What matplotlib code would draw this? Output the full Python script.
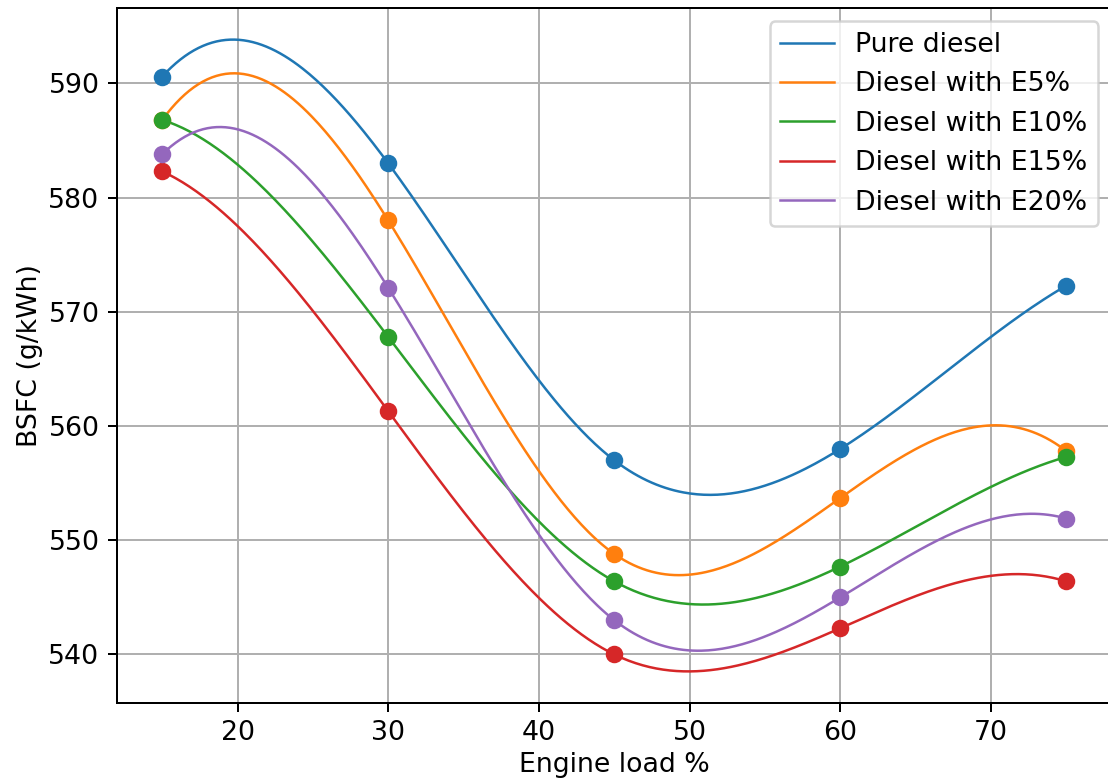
import numpy as np
import matplotlib
matplotlib.use("Agg")
import matplotlib.pyplot as plt

# Data
load = [15, 30, 45, 60, 75]
pure_diesel = [590.6, 583.0, 557.0, 558.0, 572.3]
e5 = [586.8, 578.0, 548.8, 553.7, 557.8]
e10 = [586.8, 567.8, 546.4, 547.7, 557.3]
e15 = [582.3, 561.3, 540.0, 542.3, 546.4]
e20 = [583.8, 572.1, 543.0, 545.0, 551.9]
labels = ["Pure diesel", "Diesel with E5%", "Diesel with E10%",
          "Diesel with E15%", "Diesel with E20%"]
series = [pure_diesel, e5, e10, e15, e20]


def notaknot_spline(x, y, xs):
    """Cubic spline with not-a-knot end conditions (like make_interp_spline k=3)."""
    x = np.asarray(x, float)
    y = np.asarray(y, float)
    n = len(x) - 1
    A = np.zeros((4 * n, 4 * n))
    b = np.zeros(4 * n)
    r = 0
    for i in range(n):
        h = x[i + 1] - x[i]
        A[r, 4 * i:4 * i + 4] = [1, 0, 0, 0]; b[r] = y[i]; r += 1
        A[r, 4 * i:4 * i + 4] = [1, h, h ** 2, h ** 3]; b[r] = y[i + 1]; r += 1
    for i in range(n - 1):
        h = x[i + 1] - x[i]
        A[r, 4 * i:4 * i + 4] = [0, 1, 2 * h, 3 * h ** 2]
        A[r, 4 * (i + 1) + 1] = -1; r += 1
        A[r, 4 * i:4 * i + 4] = [0, 0, 2, 6 * h]
        A[r, 4 * (i + 1) + 2] = -2; r += 1
    A[r, 3] = 1; A[r, 7] = -1; r += 1
    A[r, 4 * (n - 2) + 3] = 1; A[r, 4 * (n - 1) + 3] = -1; r += 1
    coef = np.linalg.solve(A, b).reshape(n, 4)
    idx = np.clip(np.searchsorted(x, xs, side="right") - 1, 0, n - 1)
    t = xs - x[idx]
    c = coef[idx]
    return c[:, 0] + c[:, 1] * t + c[:, 2] * t ** 2 + c[:, 3] * t ** 3


plt.rcParams["font.size"] = 10.7
dpi = 180
fig = plt.figure(figsize=(1108 / dpi, 780 / dpi), dpi=dpi)
ax = fig.add_axes([117 / 1108, 1 - 703 / 780, 994.6 / 1108, 695 / 780])

colors = plt.rcParams["axes.prop_cycle"].by_key()["color"]
xs = np.linspace(min(load), max(load), 400)
for i, (ys, lab) in enumerate(zip(series, labels)):
    ax.plot(xs, notaknot_spline(load, ys, xs), color=colors[i], lw=1, label=lab)
    ax.scatter(load, ys, color=colors[i], zorder=3)

ax.set_xlabel("Engine load %", labelpad=2)
ax.set_ylabel("BSFC (g/kWh)", labelpad=2)
ax.grid(True)
ax.legend(loc="upper right")

fig.savefig("out.png", dpi=dpi)
